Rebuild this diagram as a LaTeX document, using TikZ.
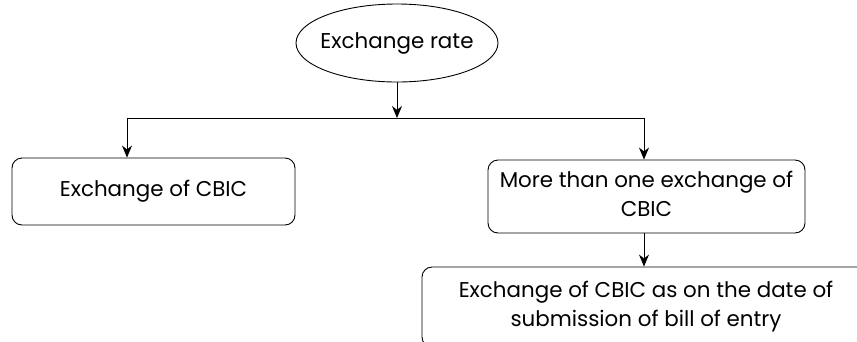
\documentclass[tikz,border=0pt]{standalone}
\usepackage{fontspec}
\setmainfont{Poppins}
\usepackage{tikz}
\usetikzlibrary{positioning,arrows.meta,shapes.geometric}

\begin{document}
\begin{tikzpicture}[x=1pt,y=-1pt,
                      font=\fontsize{21.4}{29}\selectfont,
                      arr/.style={-{Stealth[length=12pt,width=10pt]},line width=0.9pt},
                      box/.style={rectangle,rounded corners=10pt,draw,line width=0.9pt,
                                  align=center,inner sep=2pt},
                      oval/.style={ellipse,draw,line width=0.9pt,inner sep=0pt}]
    \useasboundingbox (0,0) rectangle (857,341);
    \clip (0,0) rectangle (857,341);
    \node[oval,minimum width=202pt,minimum height=78pt] (rate) at (397,43) {};
    \node (ratetext) at (rate.center) {Exchange rate};
    \node[box,minimum width=283pt,minimum height=67pt] (single) at (153.5,191.5) {Exchange of CBIC};
    \node[box,minimum width=317pt,minimum height=73pt] (multi) at (646.5,196.5) {More than one exchange of\\
      CBIC\vphantom{p}};
    \node[box,minimum width=448pt,minimum height=80pt] (entry) at (646,307) {Exchange of CBIC as on the date of\\
      submission of bill of entry};
    % branching line
    \coordinate (split) at (397,118);
    \coordinate (lft) at (127,118);
    \coordinate (rgt) at (644,118);
    \draw[arr] (rate) -- (split);
    \draw[arr] (split) -- (lft) -- (lft |- single.north);
    \draw[arr] (split) -- (rgt) -- (rgt |- multi.north);
    \draw[arr] (multi.south -| rgt) -- (rgt |- entry.north);
  \end{tikzpicture}
\end{document}
